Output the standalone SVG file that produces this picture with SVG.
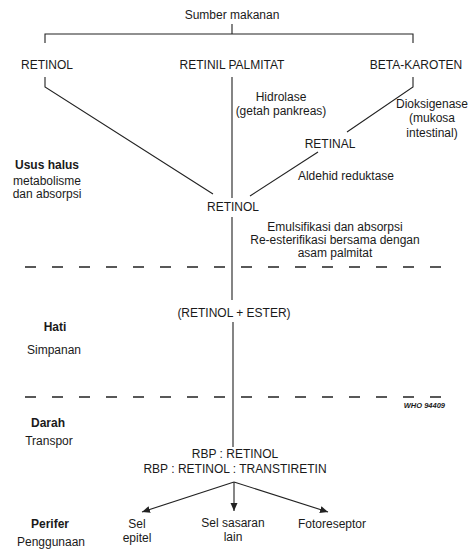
<svg xmlns="http://www.w3.org/2000/svg" width="470" height="551" viewBox="0 0 470 551">
<style>
text{font-family:"Liberation Sans",Arial,sans-serif;font-size:12px;fill:#1a1a1a;text-anchor:middle}
.b{font-weight:bold}
.who{font-size:7.5px;font-weight:bold;font-style:italic;text-anchor:end}
.ln{stroke:#222;stroke-width:1.1;fill:none}
.dash{stroke:#222;stroke-width:1.3;fill:none;stroke-dasharray:11 16}
</style>
<defs>
<marker id="ah" markerWidth="9" markerHeight="9" refX="8" refY="4.5" orient="auto" markerUnits="userSpaceOnUse">
<path d="M0,1 L8,4.5 L0,8 Z" fill="#222"/>
</marker>
</defs>
<rect width="470" height="551" fill="#fff"/>
<g id="connectors">
<path class="ln" d="M232,24 V34 M45,43 V34 H413 V43"/>
<path class="ln" d="M45,77 V87 L213,194"/>
<path class="ln" d="M413,77 V87 L347,132"/>
<path class="ln" d="M318,152 L250,196"/>
<path class="ln" d="M232,77 V198 M232,217 V300 M233,322 V447"/>
<path class="ln" d="M234,482 L142,512" marker-end="url(#ah)"/>
<path class="ln" d="M234,482 V511" marker-end="url(#ah)"/>
<path class="ln" d="M234,482 L328,512" marker-end="url(#ah)"/>
</g>
<g id="separators">
<line class="dash" x1="25" y1="267" x2="443" y2="267"/>
<line class="dash" x1="25" y1="397" x2="443" y2="397"/>
</g>
<g id="sumber"><text x="232" y="19">Sumber makanan</text></g>
<g id="retinol-top"><text x="47" y="69">RETINOL</text></g>
<g id="retinil-palmitat"><text x="232" y="69">RETINIL PALMITAT</text></g>
<g id="beta-karoten"><text x="416" y="69">BETA-KAROTEN</text></g>
<g id="hidrolase"><text x="281" y="101">Hidrolase</text><text x="281" y="115">(getah pankreas)</text></g>
<g id="dioksigenase"><text x="432" y="108">Dioksigenase</text><text x="432" y="122">(mukosa</text><text x="432" y="137">intestinal)</text></g>
<g id="retinal"><text x="330" y="148">RETINAL</text></g>
<g id="aldehid"><text x="346" y="180">Aldehid reduktase</text></g>
<g id="usus-halus"><text class="b" x="47" y="169">Usus halus</text><text x="47" y="185">metabolisme</text><text x="47" y="198">dan absorpsi</text></g>
<g id="retinol-mid"><text x="233" y="211">RETINOL</text></g>
<g id="emulsifikasi"><text x="335" y="231">Emulsifikasi dan absorpsi</text><text x="335" y="244">Re-esterifikasi bersama dengan</text><text x="335" y="257">asam palmitat</text></g>
<g id="retinol-ester"><text x="234" y="317">(RETINOL + ESTER)</text></g>
<g id="hati"><text class="b" x="55" y="331">Hati</text><text x="54" y="354">Simpanan</text></g>
<g id="who"><text class="who" x="445" y="408">WHO 94409</text></g>
<g id="darah"><text class="b" x="48" y="427">Darah</text><text x="49" y="445">Transpor</text></g>
<g id="rbp"><text x="235" y="458">RBP : RETINOL</text><text x="235" y="473">RBP : RETINOL : TRANSTIRETIN</text></g>
<g id="perifer"><text class="b" x="50" y="528">Perifer</text><text x="51" y="546">Penggunaan</text></g>
<g id="sel-epitel"><text x="137" y="528">Sel</text><text x="137" y="542">epitel</text></g>
<g id="sel-sasaran"><text x="233" y="527">Sel sasaran</text><text x="233" y="541">lain</text></g>
<g id="fotoreseptor"><text x="332" y="528">Fotoreseptor</text></g>
</svg>
